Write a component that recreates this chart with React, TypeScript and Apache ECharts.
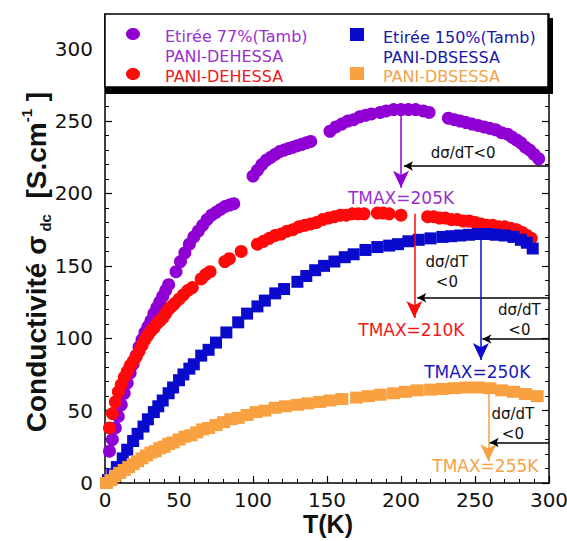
import React, { useEffect, useRef } from "react";
import * as echarts from "echarts";

// ---- data (T in K, conductivity in S/cm) ----
const purpleData: number[][] = [
  [3, 22], [5, 30], [7, 38], [9, 46], [11, 54], [13, 62], [15, 69], [17, 76], [19, 82], [21, 88], [23, 94], [25, 99], [27, 104], [29, 108], [31, 112], [33, 117], [35, 121], [37, 125], [39, 129], [41, 133], [43, 137],
  [48, 146], [51, 153], [54, 159], [57, 165], [60, 170], [63, 174], [66, 178], [69, 182], [72, 185], [75, 187], [78, 189], [81, 191], [84, 192], [87, 193],
  [100, 212], [103, 216], [106, 220], [109, 223], [112, 225], [115, 227], [118, 229], [121, 230], [124, 231], [127, 232], [130, 233], [133, 234], [136, 235], [139, 236],
  [152, 243], [156, 246], [160, 248], [164, 250], [168, 251], [172, 253], [176, 254], [180, 255],
  [186, 256], [190, 257], [195, 258], [200, 258], [205, 258], [210, 258], [215, 257], [219, 256],
  [232, 252], [236, 251], [240, 250], [244, 249], [248, 248], [252, 247], [256, 246], [260, 245], [264, 244], [268, 242], [272, 241], [275, 239], [278, 237], [281, 235], [284, 232], [287, 230], [290, 227], [293, 224],
];
const redData: number[][] = [
  [3, 38], [5, 48], [7, 56], [9, 63], [11, 68], [13, 73], [15, 77], [17, 81], [19, 84], [21, 87], [23, 91], [25, 95], [27, 99], [29, 102], [31, 105], [33, 107], [35, 110], [37, 112], [39, 114], [41, 117], [43, 120], [45, 122], [47, 124], [50, 127], [53, 130], [56, 133], [59, 135],
  [65, 141], [68, 144], [71, 146], [81, 153], [84, 155], [92, 160], [103, 165], [107, 167], [111, 169], [115, 171], [119, 172], [123, 174], [127, 175], [131, 177], [135, 178], [139, 179], [143, 180], [147, 182], [151, 183], [155, 184], [159, 185], [163, 185], [167, 186], [171, 186], [175, 186],
  [184, 186.5], [188, 186.5], [192, 186], [200, 185],
  [218, 184], [222, 184], [226, 183], [230, 183], [234, 182], [238, 182], [242, 181], [246, 181], [250, 180], [254, 179], [258, 178], [262, 178], [266, 177], [270, 177], [274, 176], [278, 175], [282, 173], [285, 171], [288, 169],
];
const blueData: number[][] = [
  [2, 2], [5, 6], [8, 11], [12, 17], [15, 23], [19, 29], [22, 34], [26, 39], [29, 44], [33, 49], [36, 53], [39, 57], [43, 62], [46, 66], [50, 71], [53, 75], [57, 79], [60, 82], [65, 88], [70, 92], [75, 97], [82, 104], [90, 111], [96, 117], [103, 122], [108, 126], [115, 131], [121, 134], [130, 139], [136, 143], [142, 147], [148, 150], [155, 153], [162, 156], [168, 158], [176, 161], [184, 163], [192, 164], [198, 165], [205, 167], [212, 168], [220, 169], [228, 170], [234, 170.5], [240, 171], [246, 171.5], [252, 172], [258, 172], [264, 171.5], [270, 171], [276, 170], [281, 168], [285, 166], [289, 162],
];
const orangeData: number[][] = [
  [1, 0], [4, 2], [7, 5], [10, 7], [13, 9], [16, 11], [19, 13], [22, 15], [25, 17], [28, 19], [31, 21], [34, 22], [37, 24], [40, 25], [43, 27], [46, 28], [50, 30], [54, 32], [58, 33], [62, 35], [66, 37], [70, 38], [75, 40], [80, 42], [85, 44], [90, 45], [96, 47], [102, 49], [108, 50], [115, 52], [122, 53], [130, 54], [137, 55], [145, 56], [152, 57], [160, 58], [170, 59], [178, 60], [186, 61], [195, 62], [203, 63], [211, 64], [220, 64.5], [228, 65], [236, 65.5], [244, 66], [252, 66], [260, 65.5], [268, 64], [276, 63], [284, 61.5], [292, 60],
];

const seriesNames = ["Etirée 77%(Tamb) PANI-DEHESSA", "PANI-DEHESSA", "Etirée 150%(Tamb) PANI-DBSESSA", "PANI-DBSESSA"];
const seriesColors = ["#9000D4", "#FF0A0A", "#0A0ACC", "#F9A040"];
const labelColors = ["#9A30D0", "#F01818", "#1818C0", "#F5A248"];

// ---- annotations (data coordinates) ----
const tmaxT = [200, 209, 254, 259];
const tmaxFrom = [258, 186, 172, 66];
const tmaxTip = [204, 114, 85, 15];
const tmaxText = ["TMAX=205K", "TMAX=210K", "TMAX=250K", "TMAX=255K"];
const tmaxTextPos = [[200, 197], [207, 106], [251.5, 77], [257, 12]];
const slopeY = [219, 128, 99.5, 28];
const slopeTipT = [202, 211, 255, 260];
const slopeText = ["dσ/dT<0", "dσ/dT\n<0", "dσ/dT\n<0", "dσ/dT\n<0"];
const slopeTextPos = [[242, 228], [231, 145.5], [280, 112.5], [275.6, 41]];

const legendRows = [
  { sym: "circle", color: "#9000D4", text: "Etirée 77%(Tamb)\nPANI-DEHESSA", tcolor: "#9A30D0", x: 133, y: 34, tx: 165 },
  { sym: "circle", color: "#FF0A0A", text: "PANI-DEHESSA", tcolor: "#F01818", x: 133, y: 74, tx: 165 },
  { sym: "rect", color: "#0A0ACC", text: "Etirée 150%(Tamb)\nPANI-DBSESSA", tcolor: "#1818A8", x: 357, y: 35, tx: 383 },
  { sym: "rect", color: "#F9A040", text: "PANI-DBSESSA", tcolor: "#F5A248", x: 357, y: 74, tx: 383 },
];

const FONT = "DejaVu Sans";

export default function App() {
  const ref = useRef<HTMLDivElement>(null);
  useEffect(() => {
    document.body.style.margin = "0";
    const chart = echarts.init(ref.current!, null, { renderer: "svg" });
    const datasets = [purpleData, redData, blueData, orangeData];
    const symbols = ["circle", "circle", "rect", "rect"];
    const sizes: any[] = [13, 13, [12, 12], [13, 12]];

    const series = datasets.map((d, i) => ({
      type: "scatter",
      name: seriesNames[i],
      data: d,
      symbol: symbols[i],
      symbolSize: sizes[i],
      itemStyle: { color: seriesColors[i], opacity: 1 },
      z: 2 + i,
      markLine: {
        silent: true,
        animation: false,
        label: { show: false },
        data: [
          [
            { coord: [tmaxT[i], tmaxFrom[i]], symbol: "none", lineStyle: { color: seriesColors[i], width: 1.5, type: "solid" } },
            { coord: [tmaxT[i], tmaxTip[i]], symbol: "arrow", symbolSize: [12, 17] },
          ],
          [
            { coord: [300, slopeY[i]], symbol: "none", lineStyle: { color: "#000", width: 1.5, type: "solid" } },
            { coord: [slopeTipT[i], slopeY[i]], symbol: "arrow", symbolSize: [7, 9] },
          ],
        ],
      },
      markPoint: {
        silent: true,
        animation: false,
        data: [
          {
            coord: tmaxTextPos[i], symbol: "circle", symbolSize: 1, itemStyle: { color: "rgba(0,0,0,0)" },
            label: { show: true, position: "inside", formatter: tmaxText[i], color: labelColors[i], fontSize: 17, fontFamily: FONT },
          },
          {
            coord: slopeTextPos[i], symbol: "circle", symbolSize: 1, itemStyle: { color: "rgba(0,0,0,0)" },
            label: { show: true, position: "inside", formatter: slopeText[i], color: "#111", fontSize: 15, lineHeight: 20, align: "center", fontFamily: FONT },
          },
        ],
      },
    }));

    const axisCommon = {
      axisLine: { show: true, lineStyle: { color: "#000", width: 1.5 } },
      axisTick: { show: true, inside: true, length: 7, lineStyle: { color: "#000", width: 1.2 } },
      minorTick: { show: true, splitNumber: 5, length: 4, lineStyle: { color: "#000", width: 1 } },
      splitLine: { show: false },
      minorSplitLine: { show: false },
    };

    const graphic: any[] = [
      { type: "rect", z: 100, shape: { x: 105, y: 86, width: 448, height: 8 }, style: { fill: "#000" } },
      { type: "rect", z: 100, shape: { x: 548, y: 18, width: 5, height: 76 }, style: { fill: "#000" } },
      { type: "rect", z: 101, shape: { x: 105, y: 14, width: 443, height: 73 }, style: { fill: "#fff", stroke: "#000", lineWidth: 1.5 } },
      {
        type: "text", z: 100, x: 36, y: 262, rotation: Math.PI / 2,
        style: {
          text: "{b|Conductivité σ}{sub| dc}{b|  [S.cm}{sup|-1}{b| ]}",
          align: "center", verticalAlign: "middle", fill: "#111",
          rich: {
            b: { fontSize: 28, fontWeight: "bold", fontFamily: "Liberation Sans", fill: "#111", lineHeight: 34, verticalAlign: "middle" },
            sub: { fontSize: 15, fontWeight: "bold", fontFamily: "Liberation Sans", fill: "#111", lineHeight: 15, verticalAlign: "bottom" },
            sup: { fontSize: 15, fontWeight: "bold", fontFamily: "Liberation Sans", fill: "#111", lineHeight: 15, verticalAlign: "top" },
          },
        },
      },
      {
        type: "text", z: 100, x: 328, y: 524,
        style: { text: "T(K)", align: "center", verticalAlign: "middle", fill: "#111", fontSize: 25, fontWeight: "bold", fontFamily: "Liberation Sans" },
      },
    ];
    legendRows.forEach((r) => {
      if (r.sym === "circle") {
        graphic.push({ type: "ellipse", z: 102, shape: { cx: r.x, cy: r.y, rx: 7, ry: 6 }, style: { fill: r.color } });
      } else {
        graphic.push({ type: "rect", z: 102, shape: { x: r.x - 7, y: r.y - 7, width: 14, height: 13 }, style: { fill: r.color } });
      }
      graphic.push({
        type: "text", z: 102, x: r.tx, y: r.y - 8,
        style: { text: r.text, fill: r.tcolor, fontSize: 16, fontFamily: FONT, lineHeight: 20, align: "left", verticalAlign: "top" },
      });
    });

    chart.setOption({
      animation: false,
      backgroundColor: "#fff",
      grid: { left: 105, right: 18, top: 14, bottom: 58, outerBoundsMode: "none" },
      xAxis: {
        type: "value", min: 0, max: 300, interval: 50, ...axisCommon,
        axisLabel: { color: "#111", fontSize: 20, fontFamily: FONT, margin: 7 },
      },
      yAxis: [
        {
          type: "value", min: 0, max: 324, interval: 50, position: "left", ...axisCommon,
          axisLabel: {
            color: "#111", fontSize: 20, fontFamily: FONT, margin: 12, showMaxLabel: false,
            formatter: (v: number) => (v % 50 === 0 ? String(v) : ""),
          },
        },
        {
          type: "value", min: 0, max: 324, interval: 50, position: "right", ...axisCommon,
          axisLabel: { show: false },
        },
      ],
      series,
      graphic,
    });
    return () => chart.dispose();
  }, []);
  return <div ref={ref} style={{ width: 567, height: 541 }} />;
}
